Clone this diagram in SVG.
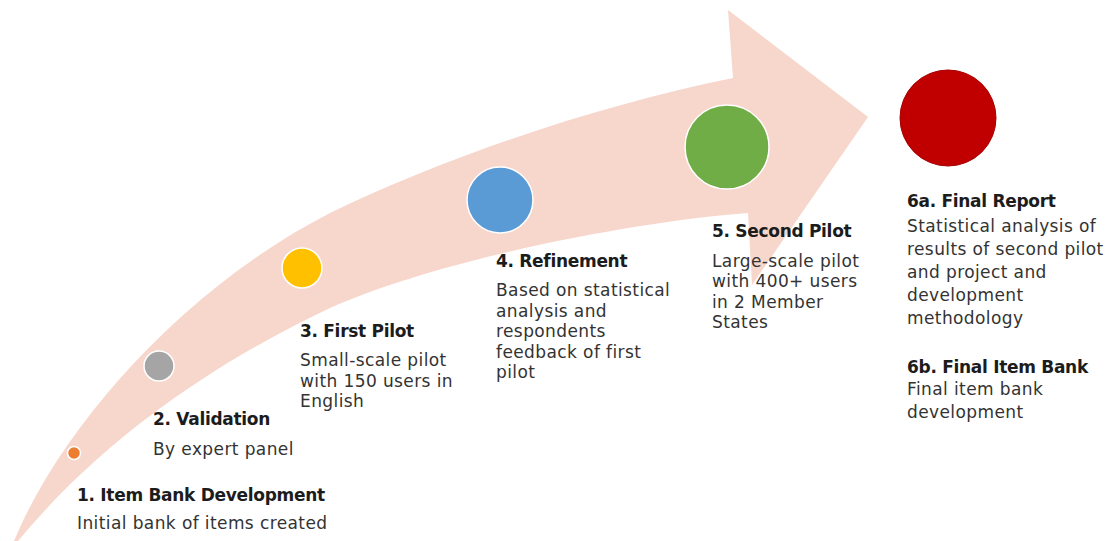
<svg xmlns="http://www.w3.org/2000/svg" width="1115" height="541" viewBox="0 0 1115 541">
  <style>
    .title { font-family: "DejaVu Sans", "Liberation Sans", sans-serif; font-size: 17px; font-weight: 700; fill: #1c1c1c; letter-spacing: -0.3px; }
    .body { font-family: "DejaVu Sans", "Liberation Sans", sans-serif; font-size: 17px; font-weight: 400; fill: #333333; letter-spacing: 0.4px; }
    .dot { stroke: #ffffff; stroke-width: 1.5; }
  </style>
  <rect width="1115" height="541" fill="#ffffff"/>

  <!-- curved progress arrow -->
  <g id="connectors">
    <path id="arrow" fill="#F7D6CB"
      d="M 14 541
         C 60 430, 180 290, 330 213
         C 450 155, 600 105, 733 78
         L 728 10
         L 868 117
         L 752 285
         L 748 213
         C 650 220, 450 255, 330 308
         C 230 355, 110 430, 18 541 Z"/>
  </g>

  <g id="step1">
    <circle class="dot" cx="74" cy="453" r="6.5" fill="#ED7D31"/>
    <text class="title" x="77" y="500.5">1. Item Bank Development</text>
    <text class="body" x="77" y="529">Initial bank of items created</text>
  </g>

  <g id="step2">
    <circle class="dot" cx="159" cy="366" r="15" fill="#A5A5A5"/>
    <text class="title" x="153" y="425">2. Validation</text>
    <text class="body" x="153" y="455">By expert panel</text>
  </g>

  <g id="step3">
    <circle class="dot" cx="302" cy="268" r="20" fill="#FFC000"/>
    <text class="title" x="300" y="337">3. First Pilot</text>
    <text class="body" x="300" y="366">Small-scale pilot</text>
    <text class="body" x="300" y="386.5">with 150 users in</text>
    <text class="body" x="300" y="407">English</text>
  </g>

  <g id="step4">
    <circle class="dot" cx="500" cy="200" r="33" fill="#5B9BD5"/>
    <text class="title" x="496" y="267">4. Refinement</text>
    <text class="body" x="496" y="296">Based on statistical</text>
    <text class="body" x="496" y="316.5">analysis and</text>
    <text class="body" x="496" y="337">respondents</text>
    <text class="body" x="496" y="357.5">feedback of first</text>
    <text class="body" x="496" y="378">pilot</text>
  </g>

  <g id="step5">
    <circle class="dot" cx="727" cy="147" r="42" fill="#70AD47"/>
    <text class="title" x="712" y="237">5. Second Pilot</text>
    <text class="body" x="712" y="266.5">Large-scale pilot</text>
    <text class="body" x="712" y="287">with 400+ users</text>
    <text class="body" x="712" y="307.5">in 2 Member</text>
    <text class="body" x="712" y="328">States</text>
  </g>

  <g id="step6">
    <circle cx="948" cy="118" r="48" fill="#C00000" stroke="#A80000" stroke-width="1"/>
    <text class="title" x="907" y="207">6a. Final Report</text>
    <text class="body" x="907" y="232">Statistical analysis of</text>
    <text class="body" x="907" y="255">results of second pilot</text>
    <text class="body" x="907" y="278">and project and</text>
    <text class="body" x="907" y="301">development</text>
    <text class="body" x="907" y="324">methodology</text>
    <text class="title" x="907" y="373">6b. Final Item Bank</text>
    <text class="body" x="907" y="395">Final item bank</text>
    <text class="body" x="907" y="418">development</text>
  </g>
</svg>
